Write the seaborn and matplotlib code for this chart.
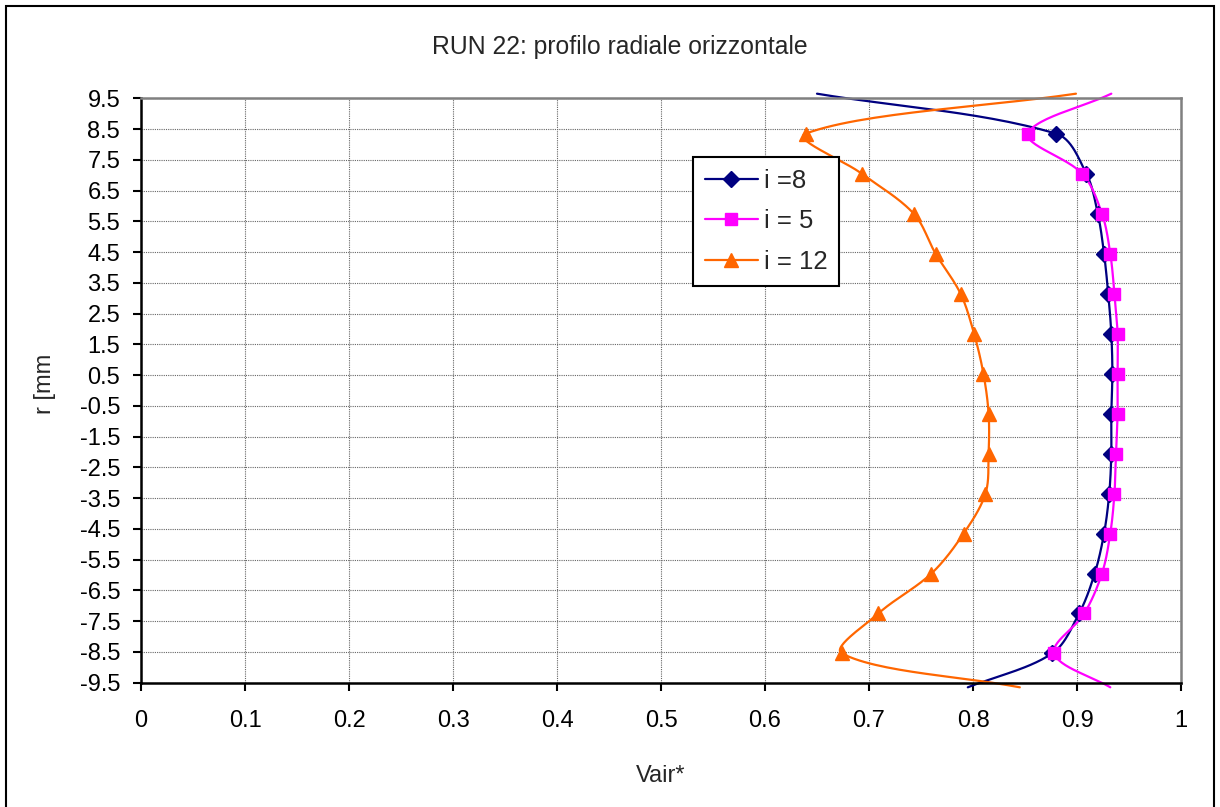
import numpy as np
import matplotlib
matplotlib.use("Agg")
import matplotlib.pyplot as plt
import seaborn as sns
from matplotlib.lines import Line2D
from matplotlib.patches import Rectangle

# radial positions (mm) and normalised air velocity per series
r_mm = [9.65, 8.35, 7.05, 5.75, 4.45, 3.15, 1.85, 0.55, -0.75, -2.05, -3.35,
        -4.65, -5.95, -7.25, -8.55, -9.65]
vair_i8 = [0.650, 0.880, 0.909, 0.920, 0.926, 0.930, 0.933, 0.934, 0.933, 0.933,
           0.931, 0.926, 0.917, 0.902, 0.876, 0.795]
vair_i5 = [0.933, 0.853, 0.905, 0.924, 0.932, 0.936, 0.939, 0.939, 0.939, 0.9375,
           0.936, 0.932, 0.924, 0.907, 0.878, 0.932]
vair_i12 = [0.899, 0.639, 0.693, 0.743, 0.764, 0.788, 0.801, 0.810, 0.815, 0.815,
            0.812, 0.791, 0.760, 0.709, 0.674, 0.845]

labels = ["i =8", "i = 5", "i = 12"]
colors = ["#000080", "#FF00FF", "#FF6600"]
markers = ["D", "s", "^"]
msizes = [8, 8.5, 9.5]

y_ticks = [9.5 - k for k in range(20)]
x_ticks = [k / 10 for k in range(11)]

# pixels per data unit, used so the smoothing behaves like excel's (screen space)
SX, SY = 1040.0, 584.4 / 19


def smooth(xs, ys, n=30):
    # excel-style smoothed line: bezier through points, tangent lengths
    # scaled by neighbouring segment lengths
    P = np.column_stack([np.array(xs) * SX, np.array(ys) * SY])
    P = np.vstack([P[0], P, P[-1]])
    out = []
    t = np.linspace(0, 1, n)[:, None]
    for i in range(1, len(P) - 2):
        p0, p1, p2, p3 = P[i - 1], P[i], P[i + 1], P[i + 2]
        d01 = np.hypot(*(p1 - p0))
        d12 = np.hypot(*(p2 - p1))
        d23 = np.hypot(*(p3 - p2))
        f1 = d12 / (d01 + d12) if d01 + d12 > 0 else 0
        f2 = d12 / (d12 + d23) if d12 + d23 > 0 else 0
        c1 = p1 + (p2 - p0) * f1 / 3
        c2 = p2 - (p3 - p1) * f2 / 3
        seg = (1 - t) ** 3 * p1 + 3 * (1 - t) ** 2 * t * c1 + 3 * (1 - t) * t ** 2 * c2 + t ** 3 * p2
        out.append(seg)
    out = np.vstack(out)
    return out[:, 0] / SX, out[:, 1] / SY


sns.set_style("white")
plt.rcParams["font.family"] = ["Liberation Sans", "DejaVu Sans"]
FS = 17

fig = plt.figure(figsize=(12.2, 8.07), dpi=100)
ax = fig.add_axes([141 / 1220, 1 - 682.7 / 807, 1040 / 1220, 584.4 / 807])

series = [vair_i8, vair_i5, vair_i12]
for vals, c, m, ms in zip(series, colors, markers, msizes):
    sx, sy = smooth(vals, r_mm)
    sns.lineplot(x=sx, y=sy, sort=False, estimator=None, color=c, lw=1.6, ax=ax)
    # markers only inside the plot range
    inside = [i for i, r in enumerate(r_mm) if -9.5 <= r <= 9.5]
    ax.plot([vals[i] for i in inside], [r_mm[i] for i in inside], ls="none",
            marker=m, ms=ms, color=c, mec=c, zorder=5)

for ln in ax.lines:
    ln.set_clip_on(False)

ax.set_xlim(0, 1)
ax.set_ylim(-9.5, 9.5)
ax.set_xticks(x_ticks)
ax.set_xticklabels([f"{v:g}" for v in x_ticks])
ax.set_yticks(y_ticks)
ax.set_yticklabels([f"{v:.1f}" for v in y_ticks])
ax.grid(True, color="#666666", ls=(0, (1, 1)), lw=0.8)
ax.tick_params(axis="both", direction="out", length=6, width=1.5, color="black",
               labelsize=FS, labelcolor="black")
ax.tick_params(axis="x", pad=14, bottom=True)
ax.tick_params(axis="y", pad=9, left=True)

for side in ["left", "bottom"]:
    ax.spines[side].set_color("black")
    ax.spines[side].set_linewidth(1.8)
for side in ["top", "right"]:
    ax.spines[side].set_color("#808080")
    ax.spines[side].set_linewidth(1.8)

ax.set_xlabel("Vair*", fontsize=FS)
ax.xaxis.label.set_va("center")
ax.xaxis.set_label_coords(0.5, (682.7 - 776) / 584.4)
ax.set_ylabel("r [mm", fontsize=FS)
ax.yaxis.label.set_va("center")
ax.yaxis.set_label_coords((45 - 141) / 1040, (682.7 - 384) / 584.4)

fig.text(620 / 1220, 1 - 47 / 807, "RUN 22: profilo radiale orizzontale",
         ha="center", va="center", fontsize=FS + 0.8)

handles = [Line2D([], [], color=c, marker=m, ms=ms, lw=1.6)
           for c, m, ms in zip(colors, markers, msizes)]
leg = ax.legend(handles, labels, loc="upper left",
                bbox_to_anchor=(692.7 / 1220, 1 - 156.7 / 807),
                bbox_transform=fig.transFigure, fontsize=18.5, frameon=True,
                fancybox=False, framealpha=1, edgecolor="black",
                handlelength=2.1, handletextpad=0.2, labelspacing=0.65,
                borderpad=0.46, borderaxespad=0)
leg.get_frame().set_linewidth(1.5)

fig.patches.append(Rectangle((6 / 1220, -0.01), 1208 / 1220, 1.01 - 6 / 807,
                             transform=fig.transFigure, fill=False,
                             ec="black", lw=1.5))

fig.savefig("out.png", dpi=100)
